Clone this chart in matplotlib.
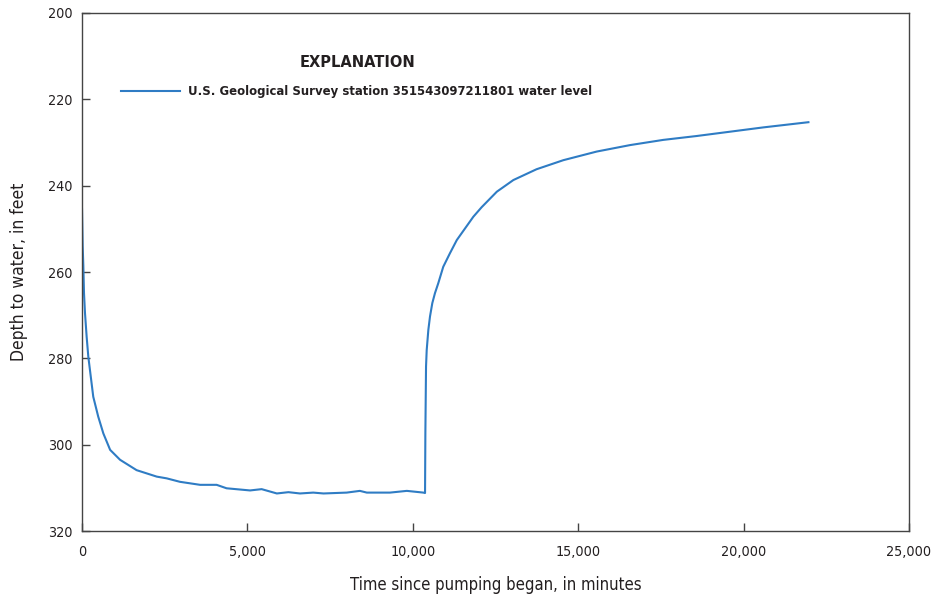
import matplotlib
matplotlib.use('agg')
from matplotlib import pyplot as plt
from matplotlib.ticker import FuncFormatter

# minutes since pumping began
time_min = [0, 20, 40, 60, 90, 140, 190, 340, 490, 645, 850, 1150, 1650, 2260,
            2560, 2960, 3570, 4070, 4370, 5080, 5430, 5890, 6240, 6590, 6990,
            7300, 8000, 8400, 8610, 9310, 9820, 10320, 10370,
            10380, 10390, 10400, 10420, 10470, 10520, 10590, 10670, 10770,
            10920, 11120, 11330, 11580, 11830, 12080,
            12540, 13040, 13740, 14550, 15560, 16570, 17570, 18580, 19590,
            20600, 21960]
# depth to water, feet
depth_ft = [245.5, 254.0, 258.6, 264.9, 269.5, 275.0, 279.6, 288.9, 293.5,
            297.4, 301.2, 303.5, 305.9, 307.4, 307.8, 308.6, 309.3, 309.3,
            310.1, 310.6, 310.3, 311.3, 311.0, 311.3, 311.1, 311.3, 311.1,
            310.7, 311.1, 311.1, 310.7, 311.1, 311.2,
            297.3, 289.6, 281.9, 278.1, 273.4, 270.3, 267.2, 264.9, 262.6,
            258.8, 255.7, 252.6, 249.9, 247.2, 245.0,
            241.4, 238.7, 236.2, 234.1, 232.1, 230.6, 229.4, 228.5, 227.5,
            226.5, 225.3]

label = 'U.S. Geological Survey station 351543097211801 water level'
ink = '#231f20'

plt.rcParams['font.family'] = ['DejaVu Sans']
plt.rcParams['font.stretch'] = 'condensed'
plt.rcParams['text.color'] = ink
plt.rcParams['axes.labelcolor'] = ink
plt.rcParams['xtick.color'] = '#444444'
plt.rcParams['ytick.color'] = '#444444'
plt.rcParams['xtick.labelcolor'] = ink
plt.rcParams['ytick.labelcolor'] = ink

fig = plt.figure(figsize=(9.32, 5.98), dpi=100)
ax = fig.add_axes([0.088, 0.112, 0.8873, 0.8663])

ax.plot(time_min, depth_ft, color='#2f7cc4', lw=1.5, label=label)

ax.set_xlim(0, 25000)
ax.set_ylim(320, 200)
ax.set_xticks(range(0, 25001, 5000))
ax.set_yticks(range(200, 321, 20))
ax.xaxis.set_major_formatter(FuncFormatter(lambda v, p: f'{int(v):,}'))

ax.tick_params(direction='in', length=6, width=1, labelsize=10.3,
               top=False, right=False)
ax.tick_params(axis='x', pad=10)
ax.tick_params(axis='y', pad=7)
for s in ax.spines.values():
    s.set_color('#444444')
    s.set_linewidth(1)

ax.set_xlabel('Time since pumping began, in minutes', fontsize=12, labelpad=12)
ax.set_ylabel('Depth to water, in feet', fontsize=12.5, labelpad=14)

# explanation block
ax.text(0.3337, 0.9035, 'EXPLANATION', transform=ax.transAxes,
        ha='center', va='center', fontsize=11.7, fontweight='bold')
ax.legend(loc='center left', bbox_to_anchor=(0.0335, 0.8475), frameon=False,
          handlelength=4.5, handletextpad=0.6,
          prop={'weight': 'bold', 'size': 9.4})

plt.savefig('out.png', dpi=100)
